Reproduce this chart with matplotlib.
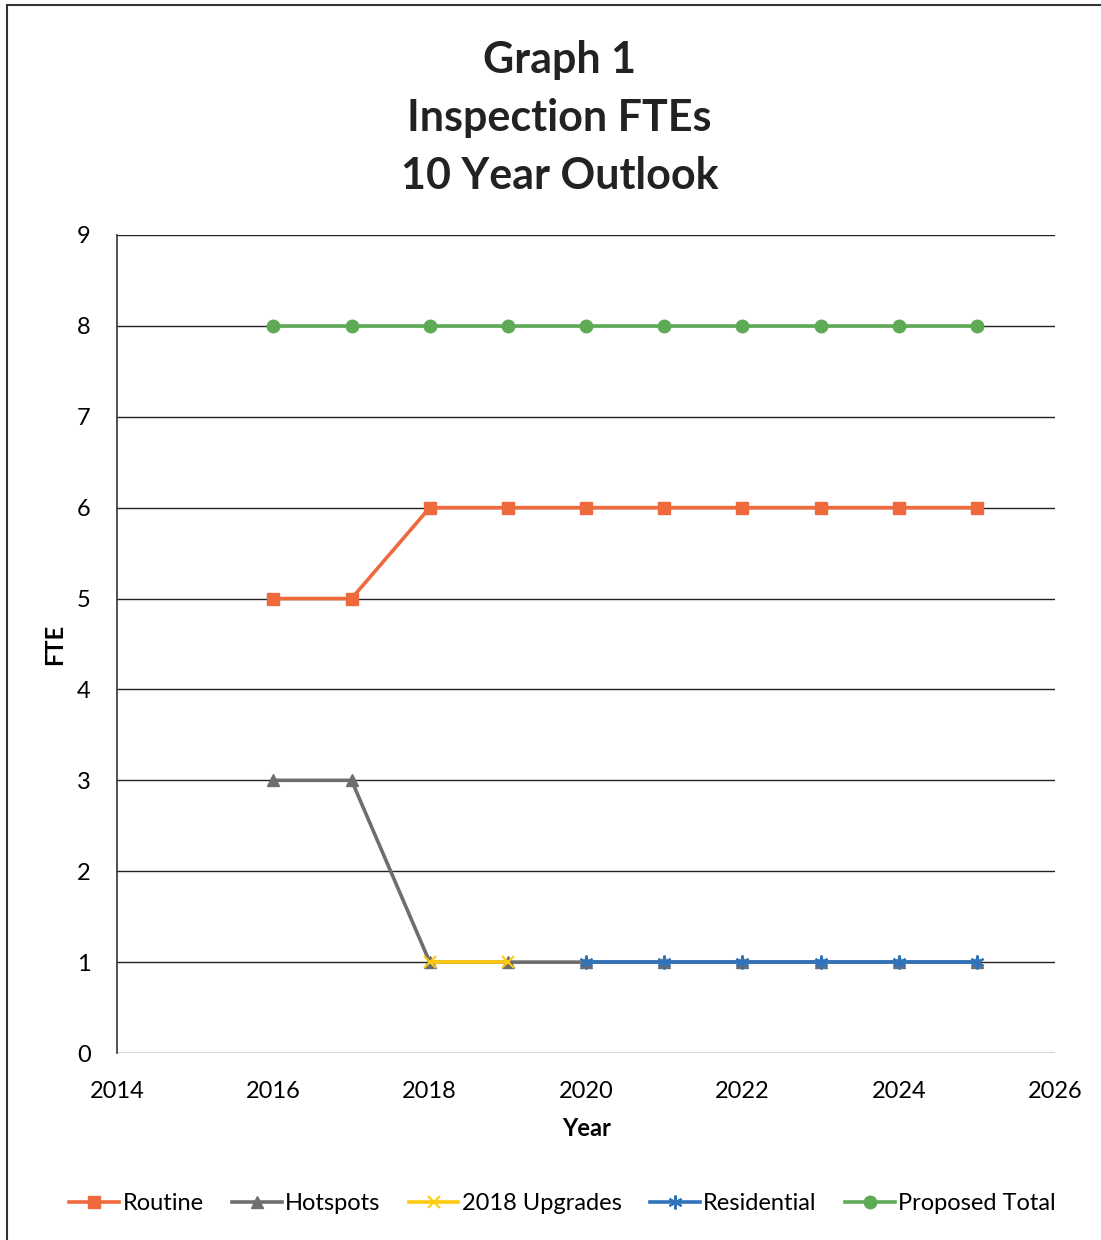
import matplotlib
matplotlib.use("Agg")
import matplotlib.pyplot as plt
from matplotlib.patches import Rectangle

plt.rcParams['font.family'] = ['Lato', 'DejaVu Sans']

years = [2016, 2017, 2018, 2019, 2020, 2021, 2022, 2023, 2024, 2025]
routine = [5, 5, 6, 6, 6, 6, 6, 6, 6, 6]
hotspots = [3, 3, 1, 1, 1, 1, 1, 1, 1, 1]
upgrade_years = [2018, 2019]
upgrades = [1, 1]
res_years = [2020, 2021, 2022, 2023, 2024, 2025]
residential = [1, 1, 1, 1, 1, 1]
total = [8, 8, 8, 8, 8, 8, 8, 8, 8, 8]

x_ticks = [2014, 2016, 2018, 2020, 2022, 2024, 2026]
y_ticks = list(range(0, 10))

fig = plt.figure(figsize=(11.01, 12.4), dpi=100)
ax = fig.add_axes([0.1063, 0.1508, 0.852, 0.6597])

lw = 2.6
ax.plot(years, routine, color='#EE6A3C', marker='s', markersize=9, lw=lw, label='Routine', zorder=3)
ax.plot(years, hotspots, color='#6E6E6E', marker='^', markersize=9, lw=lw, label='Hotspots', zorder=3)
ax.plot(upgrade_years, upgrades, color='#FFC90E', marker='x', markersize=9, mew=1.5, lw=lw, label='2018 Upgrades', zorder=4)
ax.plot(res_years, residential, color='#2F73BA', marker=(6, 2, 0), markersize=10, mew=1.5, lw=lw, label='Residential', zorder=5)
ax.plot(years, total, color='#5FAA55', marker='o', markersize=9, lw=lw, label='Proposed Total', zorder=3)

ax.set_xlim(2014, 2026)
ax.set_ylim(0, 9)
ax.set_xticks(x_ticks)
ax.set_yticks(y_ticks)
ax.tick_params(axis='both', length=0, labelsize=17)
ax.tick_params(axis='y', pad=19)
ax.tick_params(axis='x', pad=20)
ax.grid(axis='y', color='#222222', lw=1.0)
ax.set_axisbelow(True)
for s in ['top', 'right', 'bottom']:
    ax.spines[s].set_visible(False)
ax.spines['left'].set_color('#333333')
ax.spines['left'].set_linewidth(1.2)

ax.set_xlabel('Year', fontsize=17, fontweight='bold', labelpad=11)
ax.set_ylabel('FTE', fontsize=17, fontweight='bold', labelpad=8)

fig.text(0.508, 0.952, 'Graph 1', ha='center', va='center', fontsize=31, fontweight='bold', color='#222222')
fig.text(0.508, 0.905, 'Inspection FTEs', ha='center', va='center', fontsize=31, fontweight='bold', color='#222222')
fig.text(0.508, 0.858, '10 Year Outlook', ha='center', va='center', fontsize=31, fontweight='bold', color='#222222')

fig.legend(loc='center', bbox_to_anchor=(0.511, 0.0295), ncol=5, frameon=False,
           fontsize=17, handlelength=2.1, handletextpad=0.15, columnspacing=1.2)

fig.patches.append(Rectangle((7/1101, -0.1), 1.2, 1 - 5/1240 + 0.1, transform=fig.transFigure,
                             fill=False, edgecolor='#333333', lw=1.5))

fig.savefig('out.png', dpi=100)
